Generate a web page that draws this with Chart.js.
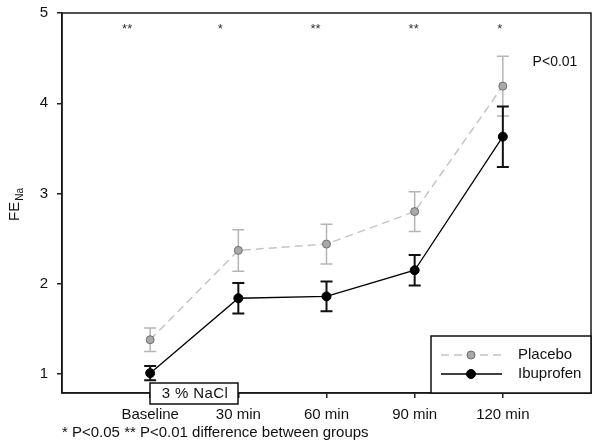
<!DOCTYPE html>
<html>
<head>
<meta charset="utf-8">
<script src="https://cdn.jsdelivr.net/npm/chart.js@4/dist/chart.umd.min.js"></script>
<style>
  html, body { margin: 0; padding: 0; background: #fff; }
  #wrap { width: 600px; height: 448px; position: relative; }
</style>
</head>
<body>
<div id="wrap"><canvas id="c" width="600" height="448"></canvas></div>
<script>
const categories = ['Baseline', '30 min', '60 min', '90 min', '120 min'];
const placeboMean = [1.38, 2.37, 2.44, 2.80, 4.19];
const placeboErr = [0.13, 0.23, 0.22, 0.22, 0.33];
const ibuprofenMean = [1.01, 1.84, 1.86, 2.15, 3.63];
const ibuprofenErr = [0.08, 0.17, 0.165, 0.17, 0.335];
const significance = ['**', '*', '**', '**', '*'];
const yTicks = [1, 2, 3, 4, 5];
const seriesNames = ['Placebo', 'Ibuprofen'];

const FONT = '"Liberation Sans", Arial, sans-serif';

const placeboStyle = { line: '#c4c4c4', fill: '#a9a9a9', border: '#6e6e6e', err: '#b5b5b5' };
const ibuStyle = { line: '#000000', fill: '#000000', border: '#000000', err: '#111111' };

const extras = {
  id: 'extras',
  beforeDatasetsDraw(chart) {
    const ctx = chart.ctx, xs = chart.scales.x, ys = chart.scales.y;
    const drawErr = (means, errs, color, w) => {
      ctx.save();
      ctx.strokeStyle = color; ctx.lineWidth = w;
      means.forEach((m, i) => {
        const x = xs.getPixelForValue(i + 1);
        const y1 = ys.getPixelForValue(m + errs[i]);
        const y2 = ys.getPixelForValue(m - errs[i]);
        ctx.beginPath();
        ctx.moveTo(x, y1); ctx.lineTo(x, y2);
        ctx.moveTo(x - 6, y1); ctx.lineTo(x + 6, y1);
        ctx.moveTo(x - 6, y2); ctx.lineTo(x + 6, y2);
        ctx.stroke();
      });
      ctx.restore();
    };
    drawErr(placeboMean, placeboErr, placeboStyle.err, 1.5);
    drawErr(ibuprofenMean, ibuprofenErr, ibuStyle.err, 2);
  },
  afterDraw(chart) {
    const ctx = chart.ctx, a = chart.chartArea, xs = chart.scales.x, ys = chart.scales.y;
    ctx.save();
    // frame
    ctx.strokeStyle = '#1a1a1a'; ctx.lineWidth = 1.5;
    ctx.strokeRect(a.left, a.top, a.right - a.left, a.bottom - a.top);

    // significance stars
    const offs = [-23, -18, -11, -1, -3];
    ctx.fillStyle = '#333'; ctx.font = '13px ' + FONT;
    ctx.textAlign = 'center'; ctx.textBaseline = 'middle';
    significance.forEach((s, i) => {
      ctx.fillText(s, xs.getPixelForValue(i + 1) + offs[i], ys.getPixelForValue(4.82));
    });

    // P<0.01
    ctx.fillStyle = '#111'; ctx.font = '14px ' + FONT;
    ctx.fillText('P<0.01', 555, 62);

    // legend box
    const lx = 431, ly = 336, lw = a.right - 431, lh = a.bottom - 336;
    ctx.fillStyle = '#fff'; ctx.fillRect(lx, ly, lw, lh);
    ctx.strokeStyle = '#111'; ctx.lineWidth = 1.5; ctx.strokeRect(lx, ly, lw, lh);
    const entries = [
      { y: 355, st: placeboStyle, dash: [8, 5], lw: 1.5, r: 4 },
      { y: 374, st: ibuStyle, dash: [], lw: 1.5, r: 4.5 }
    ];
    entries.forEach((e, i) => {
      ctx.save();
      ctx.strokeStyle = e.st.line; ctx.lineWidth = e.lw; ctx.setLineDash(e.dash);
      ctx.beginPath(); ctx.moveTo(441, e.y); ctx.lineTo(502, e.y); ctx.stroke();
      ctx.setLineDash([]);
      ctx.fillStyle = e.st.fill; ctx.strokeStyle = e.st.border; ctx.lineWidth = 1;
      ctx.beginPath(); ctx.arc(471, e.y, e.r, 0, Math.PI * 2); ctx.fill(); ctx.stroke();
      ctx.restore();
      ctx.fillStyle = '#111'; ctx.font = '15px ' + FONT;
      ctx.textAlign = 'left'; ctx.textBaseline = 'middle';
      ctx.fillText(seriesNames[i], 518, e.y);
    });

    // 3 % NaCl box
    ctx.fillStyle = '#fff'; ctx.fillRect(150, 383, 88, 21);
    ctx.strokeStyle = '#111'; ctx.lineWidth = 1.5; ctx.strokeRect(150, 383, 88, 21);
    ctx.fillStyle = '#111'; ctx.font = '15px ' + FONT; ctx.textAlign = 'center';
    ctx.letterSpacing = '0.4px';
    ctx.fillText('3 % NaCl', 195, 394);
    ctx.letterSpacing = '0px';

    // footnote
    ctx.textAlign = 'left';
    ctx.font = '15px ' + FONT;
    ctx.fillText('* P<0.05 ** P<0.01 difference between groups', 62, 433);

    // y title FE_Na
    ctx.save();
    ctx.translate(19, 221);
    ctx.rotate(-Math.PI / 2);
    ctx.textAlign = 'left'; ctx.textBaseline = 'alphabetic';
    ctx.font = '15px ' + FONT;
    ctx.fillText('FE', 0, 0);
    const w = ctx.measureText('FE').width;
    ctx.font = '10px ' + FONT;
    ctx.fillText('Na', w + 1, 4);
    ctx.restore();

    ctx.restore();
  }
};

new Chart(document.getElementById('c'), {
  type: 'line',
  data: {
    datasets: [
      {
        label: seriesNames[1],
        data: ibuprofenMean.map((v, i) => ({ x: i + 1, y: v })),
        borderColor: ibuStyle.line, borderWidth: 1.3,
        pointBackgroundColor: ibuStyle.fill, pointBorderColor: ibuStyle.border,
        pointRadius: 4.5, pointBorderWidth: 1, tension: 0
      },
      {
        label: seriesNames[0],
        data: placeboMean.map((v, i) => ({ x: i + 1, y: v })),
        borderColor: placeboStyle.line, borderWidth: 1.5, borderDash: [8, 5],
        pointBackgroundColor: placeboStyle.fill, pointBorderColor: placeboStyle.border,
        pointRadius: 4, pointBorderWidth: 1, tension: 0
      }
    ]
  },
  options: {
    responsive: false,
    animation: false,
    layout: { padding: { top: 13, right: 9, left: 0, bottom: 0 } },
    plugins: { legend: { display: false }, tooltip: { enabled: false } },
    scales: {
      x: {
        type: 'linear', min: 0, max: 6,
        afterBuildTicks(s) { s.ticks = categories.map((c, i) => ({ value: i + 1 })); },
        afterFit(s) { s.height = 55; s.paddingLeft = 0; s.paddingRight = 0; },
        ticks: {
          callback(v) { return categories[v - 1] || ''; },
          color: '#111', font: { family: FONT, size: 15 }, padding: 8, maxRotation: 0, autoSkip: false
        },
        grid: { drawOnChartArea: false, drawTicks: true, tickLength: 5, color: '#222', lineWidth: 1.5 },
        border: { display: true, color: '#1a1a1a', width: 1.5 }
      },
      y: {
        type: 'linear', min: 0.79, max: 5,
        afterBuildTicks(s) { s.ticks = yTicks.map(v => ({ value: v })); },
        afterFit(s) { s.width = 62; s.paddingTop = 0; s.paddingBottom = 0; },
        ticks: { color: '#111', font: { family: FONT, size: 15 }, padding: 9 },
        grid: { drawOnChartArea: false, drawTicks: true, tickLength: 5, color: '#222', lineWidth: 1.5 },
        border: { display: true, color: '#1a1a1a', width: 1.5 }
      }
    }
  },
  plugins: [extras]
});
</script>
</body>
</html>
